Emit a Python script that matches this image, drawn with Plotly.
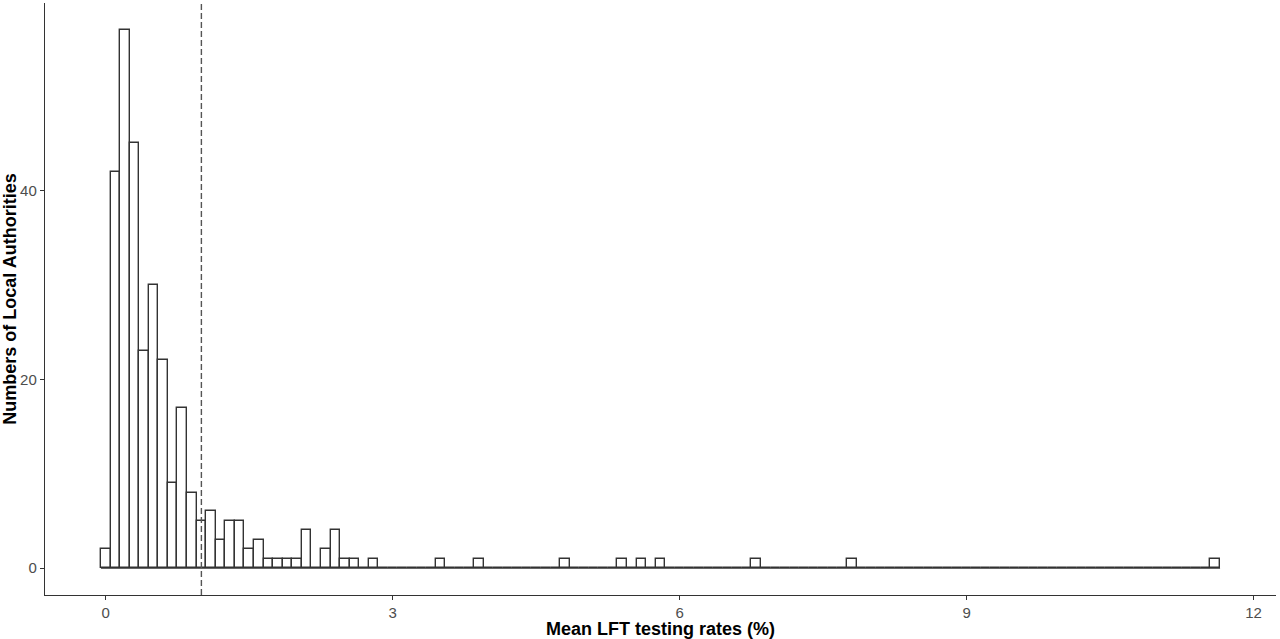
import numpy as np
import plotly.graph_objects as go

# Histogram of mean LFT testing rates (%), bin width 0.1, bins centred on 0.0, 0.1, ...
bin_width = 0.1
# counts for bins centred at 0.0, 0.1, ..., 2.8
low_bin_counts = [2, 42, 57, 45, 23, 30, 22, 9, 17, 8,
                  5, 6, 3, 5, 5, 2, 3, 1, 1, 1,
                  1, 4, 0, 2, 4, 1, 1, 0, 1]
# isolated bins (centres) that each hold one local authority
outlier_bins = [3.5, 3.9, 4.8, 5.4, 5.6, 5.8, 6.8, 7.8, 11.6]
outlier_counts = [1, 1, 1, 1, 1, 1, 1, 1, 1]
threshold_rate = 1.0

x_ticks = [0, 3, 6, 9, 12]
y_ticks = [0, 20, 40]

# build full bin table
n_bins = int(round(outlier_bins[-1] / bin_width)) + 1
centres = np.round(np.arange(n_bins) * bin_width, 1)
counts = np.zeros(n_bins, dtype=int)
counts[:len(low_bin_counts)] = low_bin_counts
for b, c in zip(outlier_bins, outlier_counts):
    counts[int(round(b / bin_width))] += c

left_edge = centres[0] - bin_width / 2
right_edge = centres[-1] + bin_width / 2
span = right_edge - left_edge
x_range = [left_edge - 0.05 * span, right_edge + 0.05 * span]
y_range = [-0.05 * counts.max(), counts.max() * 1.05]

line_col = "#333333"
fig = go.Figure()
# baseline drawn by the empty bins
fig.add_trace(go.Scatter(x=[left_edge, right_edge], y=[0, 0], mode="lines",
                         line=dict(color=line_col, width=1.4), hoverinfo="skip",
                         showlegend=False))
fig.add_trace(go.Bar(x=centres, y=counts, width=bin_width,
                     marker=dict(color="white", line=dict(color=line_col, width=1.4)),
                     showlegend=False))

fig.add_shape(type="line", x0=threshold_rate, x1=threshold_rate, xref="x",
              y0=0, y1=1, yref="paper",
              line=dict(color="#555555", width=1.4, dash="6px,3px"))

tick_font = dict(family="Liberation Sans, Arial, sans-serif", size=15, color="#4d4d4d")
title_font = dict(family="Liberation Sans, Arial, sans-serif", size=18, color="black")

fig.update_layout(
    width=1280, height=639,
    margin=dict(l=45, r=4, t=3, b=44),
    plot_bgcolor="white", paper_bgcolor="white",
    bargap=0,
    xaxis=dict(range=x_range, tickvals=x_ticks, ticktext=[str(v) for v in x_ticks],
               showgrid=False, zeroline=False, showline=True, linecolor=line_col,
               linewidth=1.4, ticks="outside", ticklen=4, tickcolor=line_col,
               tickfont=tick_font, automargin=False,
               title=dict(text="<b>Mean LFT testing rates (%)</b>", font=title_font,
                          standoff=0)),
    yaxis=dict(range=y_range, tickvals=y_ticks, showgrid=False, zeroline=False,
               showline=True, linecolor=line_col, linewidth=1.4, ticks="outside",
               ticklen=4, tickcolor=line_col, tickfont=tick_font, automargin=False,
               title=dict(text="<b>Numbers of Local Authorities</b>", font=title_font,
                          standoff=0)),
)

fig.write_html("out.html", config={"displayModeBar": False},
               post_script="document.body.style.margin='0';document.body.style.overflow='hidden';")
